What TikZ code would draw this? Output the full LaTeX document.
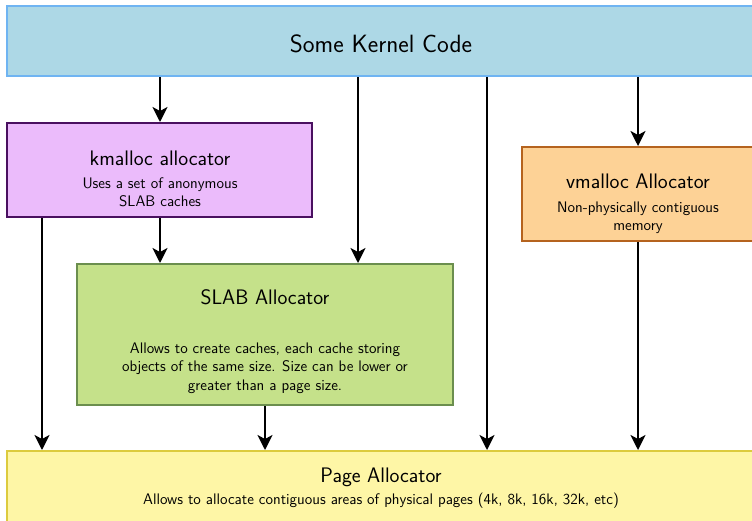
\documentclass[tikz,border=0pt]{standalone}
\usetikzlibrary{arrows.meta}
\definecolor{topfill}{HTML}{ADD8E6}
\definecolor{topdraw}{HTML}{6FB4F2}
\definecolor{kmfill}{HTML}{EBBBFB}
\definecolor{kmdraw}{HTML}{4A1060}
\definecolor{vmfill}{HTML}{FDD296}
\definecolor{vmdraw}{HTML}{B5631E}
\definecolor{slfill}{HTML}{C5E18A}
\definecolor{sldraw}{HTML}{6B8E4E}
\definecolor{pgfill}{HTML}{FEF6A6}
\definecolor{pgdraw}{HTML}{DCCB3E}
\tikzset{
  box/.style={rectangle, line width=2pt, inner sep=0pt},
  ttl/.style={anchor=base, inner sep=0pt, font=\sffamily\fontsize{21}{25}\selectfont},
  sub/.style={anchor=base, inner sep=0pt, font=\sffamily\fontsize{15.3}{18.5}\selectfont},
  arr/.style={line width=2.2pt, -{Stealth[length=15pt,width=15pt,inset=4pt]}}
}
\begin{document}
\begin{tikzpicture}[x=1pt,y=-1pt]
\useasboundingbox (0,0) rectangle (752,520);
% boxes
\node[box, fill=topfill, draw=topdraw, minimum width=748pt, minimum height=70pt] (top) at (381,41) {};
\node[box, fill=kmfill, draw=kmdraw, minimum width=305pt, minimum height=94pt] (km) at (159.5,170) {};
\node[box, fill=vmfill, draw=vmdraw, minimum width=232pt, minimum height=94pt] (vm) at (638,194) {};
\node[box, fill=slfill, draw=sldraw, minimum width=376pt, minimum height=141pt] (sl) at (265,334.5) {};
\node[box, fill=pgfill, draw=pgdraw, minimum width=748pt, minimum height=72pt] (pg) at (381,487) {};
% texts
\node[ttl, font=\sffamily\fontsize{25}{29}\selectfont] (toptxt) at (381,52) {Some Kernel Code};
\node[ttl] (kmt) at (160,165) {kmalloc allocator};
\node[sub] (kms1) at (160,188) {Uses a set of anonymous};
\node[sub] (kms2) at (160,206.5) {SLAB caches};
\node[ttl] (vmt) at (638,188) {vmalloc Allocator};
\node[sub] (vms1) at (638,212) {Non-physically contiguous};
\node[sub] (vms2) at (638,230.5) {memory};
\node[ttl] (slt) at (265,304) {SLAB Allocator};
\node[sub] (sls1) at (265,353) {Allows to create caches, each cache storing};
\node[sub] (sls2) at (265,371.5) {objects of the same size. Size can be lower or};
\node[sub] (sls3) at (265,390) {greater than a page size.};
\node[ttl] (pgt) at (381,482) {Page Allocator};
\node[sub] (pgs) at (381,504) {Allows to allocate contiguous areas of physical pages (4k, 8k, 16k, 32k, etc)};
% x positions
\coordinate (xa) at (160,0);
\coordinate (xb) at (358,0);
\coordinate (xc) at (487,0);
\coordinate (xd) at (638,0);
\coordinate (xe) at (42,0);
\coordinate (xf) at (265,0);
% arrows
\draw[arr] (top.south -| xa) -- (km.north -| xa);
\draw[arr] (top.south -| xb) -- (sl.north -| xb);
\draw[arr] (top.south -| xc) -- (pg.north -| xc);
\draw[arr] (top.south -| xd) -- (vm.north -| xd);
\draw[arr] (km.south -| xe) -- (pg.north -| xe);
\draw[arr] (km.south -| xa) -- (sl.north -| xa);
\draw[arr] (sl.south -| xf) -- (pg.north -| xf);
\draw[arr] (vm.south -| xd) -- (pg.north -| xd);
\end{tikzpicture}
\end{document}
